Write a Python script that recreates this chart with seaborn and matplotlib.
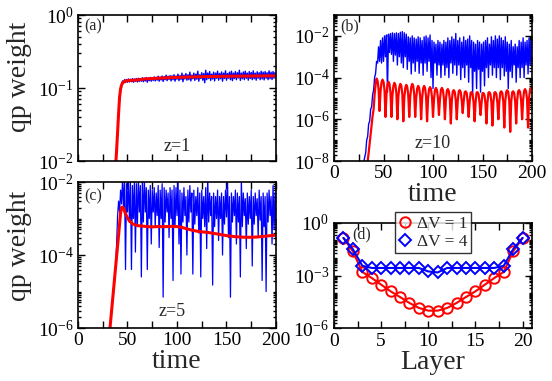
import numpy as np
import pandas as pd
import matplotlib
matplotlib.use("Agg")
import matplotlib.pyplot as plt
import seaborn as sns
from matplotlib.ticker import FixedLocator, LogLocator, MultipleLocator, NullFormatter, LogFormatterSciNotation
from matplotlib.lines import Line2D

# ---------------- data ----------------
# panel (a) z=1
a_red_t = [38, 39, 40, 41, 42, 43, 44, 45, 46, 48, 52, 60, 67, 80, 100, 125, 150, 175, 200]
a_red_y = [0.0085, 0.014, 0.025, 0.045, 0.075, 0.097, 0.11, 0.117, 0.121, 0.125, 0.127,
           0.129, 0.133, 0.136, 0.14, 0.143, 0.145, 0.146, 0.147]
a_blue_t0 = 38
a_blue_y = [0.0085, 0.014, 0.025, 0.045, 0.075, 0.097, 0.11,
            0.125, 0.116, 0.13, 0.119, 0.131, 0.12, 0.133, 0.121, 0.132, 0.122, 0.134, 0.12, 0.133,
            0.123, 0.135, 0.121, 0.136, 0.123, 0.134, 0.124, 0.138, 0.122, 0.136, 0.125, 0.139, 0.12,
            0.137, 0.126, 0.14, 0.124, 0.138, 0.127, 0.142, 0.125, 0.14, 0.128, 0.145, 0.124, 0.141,
            0.129, 0.146, 0.123, 0.143, 0.13, 0.15, 0.126, 0.145, 0.131, 0.148, 0.125, 0.147, 0.13,
            0.152, 0.124, 0.146, 0.132, 0.155, 0.126, 0.148, 0.131, 0.16, 0.122, 0.15, 0.133, 0.158,
            0.128, 0.152, 0.13, 0.165, 0.125, 0.15, 0.134, 0.16, 0.127, 0.155, 0.132, 0.17, 0.124,
            0.152, 0.135, 0.162, 0.128, 0.158, 0.118, 0.175, 0.13, 0.16, 0.135, 0.168, 0.127, 0.155,
            0.133, 0.165, 0.125, 0.16, 0.136, 0.17, 0.128, 0.158, 0.134, 0.166, 0.124, 0.16, 0.135,
            0.172, 0.128, 0.158, 0.136, 0.165, 0.13, 0.17, 0.126, 0.16, 0.135, 0.168, 0.13, 0.162,
            0.137, 0.175, 0.127, 0.16, 0.134, 0.166, 0.13, 0.17, 0.136, 0.16, 0.128, 0.168, 0.135,
            0.163, 0.13, 0.172, 0.134, 0.16, 0.128, 0.167, 0.136, 0.162, 0.13, 0.17, 0.133, 0.165,
            0.129, 0.168, 0.136, 0.162, 0.13, 0.172, 0.134, 0.165, 0.131, 0.168, 0.136, 0.163, 0.14]

# panel (b) z=10
b_red_t0 = 33
b_red_y = [5e-9, 1e-8, 2.5e-8, 7e-8, 2e-7, 6e-7, 1.5e-6, 3e-6, 1.5e-5, 5e-5,
           9e-5, 7e-5, 2.8e-5, 2.5e-6, 2.2e-5, 6e-5,
           8e-5, 6.3e-5, 2.5e-5, 1.3e-6, 1.6e-5, 4.5e-5,
           6.3e-5, 5e-5, 2e-5, 1.3e-6, 1.4e-5, 4e-5,
           5.6e-5, 4.5e-5, 1.8e-5, 1e-6, 1.26e-5, 3.5e-5,
           5e-5, 4e-5, 1.6e-5, 8e-7, 1.1e-5, 3.2e-5,
           4.5e-5, 3.5e-5, 1.4e-5, 1.3e-6, 1.2e-5, 3.5e-5,
           5e-5, 4e-5, 1.6e-5, 1.3e-6, 1e-5, 3e-5,
           4e-5, 3.2e-5, 1.3e-5, 1e-6, 1e-5, 3e-5,
           4e-5, 3.2e-5, 1.2e-5, 8e-7, 1e-5, 2.8e-5,
           3.5e-5, 2.8e-5, 1.1e-5, 1.3e-6, 9e-6, 2.6e-5,
           3.2e-5, 2.5e-5, 1e-5, 1.6e-6, 9e-6, 2.6e-5,
           3.2e-5, 2.5e-5, 1e-5, 1e-6, 8.5e-6, 2.4e-5,
           2.8e-5, 2.2e-5, 9e-6, 6.3e-7, 8e-6, 2.2e-5,
           2.5e-5, 2e-5, 8e-6, 1e-6, 8e-6, 2.2e-5,
           2.5e-5, 2e-5, 8e-6, 2e-6, 7.5e-6, 2e-5,
           2.2e-5, 1.8e-5, 7e-6, 1.3e-6, 7e-6, 1.9e-5,
           2e-5, 1.6e-5, 6.3e-6, 8e-7, 6.5e-6, 1.9e-5,
           2e-5, 1.6e-5, 6.3e-6, 1.6e-6, 6e-6, 1.8e-5,
           1.8e-5, 1.4e-5, 5.6e-6, 6.3e-7, 6.5e-6, 1.9e-5,
           2e-5, 1.6e-5, 6.3e-6, 5e-7, 6.5e-6, 1.9e-5,
           2e-5, 1.6e-5, 6.3e-6, 1e-6, 7e-6, 2e-5,
           2.2e-5, 1.8e-5, 7e-6, 4e-7, 7.5e-6, 2.1e-5,
           2.5e-5, 2e-5, 8e-6, 2.5e-7, 7e-6, 2e-5,
           2.2e-5, 1.8e-5, 7e-6, 6.3e-7, 8e-6, 2.2e-5,
           2.5e-5, 2e-5, 8e-6, 1e-6, 8e-6, 2.3e-5,
           2.8e-5, 2.2e-5, 9e-6, 4e-7, 1e-5, 2.6e-5,
           3.2e-5, 2.8e-5]
b_blue_t0 = 28
b_blue_y = [3e-9, 6e-9, 9e-9, 1.5e-8, 2.5e-8, 1e-7, 1.5e-7, 6e-7, 8e-7, 3e-6, 4e-6, 1.5e-5,
            2.5e-5, 1e-4, 1.6e-4, 6e-4, 5e-4, 3e-3, 6e-4, 6e-3, 5e-4, 8e-3, 6e-4, 1e-2, 1e-3,
            1.1e-2, 2e-5, 1.2e-2, 1.6e-3, 1.3e-2, 1.3e-3, 1.4e-2, 6e-4, 1.3e-2, 1.2e-3, 1.4e-2,
            4e-4, 1.3e-2, 1e-3, 1.5e-2, 5e-4, 1.6e-2, 3e-4, 1.4e-2, 1e-3, 1.2e-2, 2.5e-4, 9e-3,
            6e-4, 8e-3, 1.5e-4, 1e-2, 5e-4, 8e-3, 2e-4, 7e-3, 6e-4, 9e-3, 1.6e-4, 8e-3, 5e-4,
            6e-3, 1.3e-4, 9e-3, 5e-4, 1e-2, 2e-4, 8e-3, 6e-4, 1.1e-2, 1e-4, 6e-3, 3e-5, 5e-3,
            5e-4, 4e-3, 1.3e-4, 6e-3, 4e-4, 5e-3, 1e-4, 4e-3, 4e-4, 6e-3, 1.3e-4, 5e-3, 3e-4,
            8e-3, 1e-4, 6e-3, 5e-4, 9e-3, 1.6e-4, 7e-3, 4e-4, 1.3e-2, 1.3e-4, 6e-3, 4e-4, 8e-3,
            8e-5, 5e-3, 3e-4, 9e-3, 1e-4, 6e-3, 4e-4, 7e-3, 6e-5, 1e-2, 3e-4, 6e-3, 1.6e-5,
            5e-3, 2e-4, 4e-3, 3e-5, 6e-3, 2.5e-4, 5e-3, 2e-5, 4e-3, 2e-4, 5e-3, 4e-5, 6e-3,
            3e-4, 8e-3, 1e-4, 4e-3, 4e-4, 9e-3, 1.3e-4, 6e-3, 3e-4, 1e-2, 1e-4, 7e-3, 3e-4,
            1e-2, 8e-5, 8e-3, 3e-4, 6e-3, 1.2e-4, 9e-3, 2e-4, 5e-3, 3e-5, 4e-3, 2e-4, 6e-3,
            1e-4, 3e-3, 4e-4, 4e-3, 6e-5, 3e-3, 3e-4, 6e-3, 1e-4, 5e-3, 3e-4, 8e-3, 1e-4,
            5e-3, 4e-4, 6e-3, 1.5e-4, 8e-3, 4e-4, 6e-3, 8e-4]

# panel (c) z=5
c_red_t = [30, 31, 32, 34, 36, 38, 40, 42, 43, 44, 45, 46, 47, 48, 50, 52, 55, 58, 60, 65, 70,
           75, 80, 85, 90, 95, 100, 105, 110, 115, 120, 125, 130, 140, 150, 160, 170, 180, 190, 200]
c_red_y = [2.6e-7, 5e-7, 8e-7, 3.1e-6, 1.2e-5, 4.7e-5, 1.8e-4, 7e-4, 1.4e-3, 2e-3, 2.05e-3,
           1.9e-3, 1.6e-3, 1.35e-3, 1.05e-3, 8.5e-4, 7.2e-4, 6.6e-4, 6.4e-4, 6.2e-4, 6e-4, 5.9e-4,
           6e-4, 6e-4, 6e-4, 6.1e-4, 6e-4, 5.7e-4, 5.2e-4, 4.8e-4, 4.5e-4, 4.3e-4, 4.2e-4, 3.8e-4,
           3.4e-4, 3.15e-4, 3.05e-4, 3.1e-4, 3.3e-4, 3.5e-4]
c_blue_t0 = 38
c_blue_y = [4.7e-5, 2e-4, 1.2e-3, 3e-3, 1.5e-3, 6e-3, 2.5e-3, 1.2e-2, 2e-3, 1.1e-2, 4e-5, 9e-3,
            1.5e-3, 1.2e-2, 8e-4, 1e-2, 4e-5, 8e-3, 1e-3, 1.1e-2, 1.2e-4, 9e-3, 6e-4, 1.2e-2,
            1.5e-3, 8e-3, 2.5e-5, 1e-2, 8e-4, 1.3e-2, 1.5e-3, 7e-3, 4e-5, 6e-3, 1e-3, 8e-3,
            2e-4, 6e-3, 1.5e-3, 7e-3, 6e-4, 5e-3, 1.2e-3, 8e-3, 1.6e-4, 6e-3, 1e-3, 9e-3, 7e-6,
            7e-3, 8e-4, 6e-3, 1.5e-3, 5e-3, 3e-4, 7e-3, 1e-3, 6e-3, 2e-5, 8e-3, 6e-4, 7e-3,
            1.2e-3, 1.2e-2, 2e-4, 6e-3, 3e-5, 5e-3, 8e-4, 7e-3, 1.2e-3, 4e-3, 1e-4, 6e-3, 8e-4,
            8e-3, 1.5e-3, 5e-3, 3e-5, 6e-3, 7e-4, 4e-3, 1.2e-3, 7e-3, 4e-4, 5e-3, 2.5e-5, 6e-3,
            1e-3, 4e-3, 6e-4, 7e-3, 1.5e-4, 1.5e-2, 8e-4, 5e-3, 1.2e-3, 4e-3, 1.5e-5, 5e-3,
            6e-4, 4e-3, 1e-3, 6e-3, 2.5e-4, 4e-3, 1e-3, 5e-3, 1e-4, 4e-3, 7e-4, 6e-3, 1.1e-3,
            1.5e-2, 3e-4, 4e-3, 7e-6, 5e-3, 8e-4, 4e-3, 1.2e-3, 6e-3, 2e-4, 5e-3, 8e-4, 4e-3,
            2.5e-5, 1.3e-2, 6e-4, 5e-3, 1.2e-3, 3.5e-3, 1.5e-4, 5e-3, 7e-4, 4e-3, 1e-3, 6e-3,
            5e-5, 4e-3, 7e-4, 5e-3, 1.2e-3, 3.5e-3, 3e-4, 6e-3, 9e-4, 4e-3, 2e-5, 5e-3, 6e-4,
            4e-3, 1e-5, 5e-3, 8e-4, 6e-3, 1.2e-3, 4e-3, 2e-4, 8e-3, 5e-4, 5e-3, 1e-3]

# panel (d)
layers = list(range(1, 21))
d_dv1 = [0.14, 0.024, 1.6e-3, 7.2e-4, 3e-4, 1.25e-4, 5.9e-5, 2.7e-5, 1.4e-5, 9.8e-6,
         9.8e-6, 1.4e-5, 2.7e-5, 5.9e-5, 1.25e-4, 3e-4, 7.2e-4, 1.6e-3, 0.024, 0.14]
d_dv4 = [0.14, 0.032, 3.6e-3, 2.7e-3, 2.7e-3, 2.7e-3, 2.7e-3, 2.7e-3, 2.7e-3, 1.7e-3,
         1.5e-3, 2.7e-3, 2.7e-3, 2.7e-3, 2.7e-3, 2.7e-3, 2.7e-3, 3.6e-3, 0.032, 0.14]
legend_labels = ["\u0394V = 1", "\u0394V = 4"]

# ---------------- style ----------------
sns.set_theme(style="ticks")
plt.rcParams.update({
    "font.family": ["Liberation Serif", "DejaVu Serif"],
    "mathtext.fontset": "custom",
    "mathtext.rm": "Liberation Serif",
    "mathtext.it": "Liberation Serif:italic",
    "mathtext.bf": "Liberation Serif:bold",
    "axes.linewidth": 1.2,
    "axes.edgecolor": "black",
    "xtick.color": "black",
    "ytick.color": "black",
})
RED = "#ff0000"
BLUE = "#0000ff"
TICK_FS = 14
LAB_FS = 20

fig = plt.figure(figsize=(5.52, 3.81), dpi=100)
ax_a = fig.add_axes([0.1413, 0.5774, 0.3587, 0.3832])
ax_b = fig.add_axes([0.6051, 0.5774, 0.3587, 0.3832])
ax_c = fig.add_axes([0.1413, 0.1391, 0.3587, 0.3832])
ax_d = fig.add_axes([0.6051, 0.1391, 0.3587, 0.2756])


def series(t0, ys):
    return pd.DataFrame({"t": np.arange(t0, t0 + len(ys)), "y": ys})


def style_time_axis(ax, ylo, yhi, majors, show_x=True):
    ax.set_yscale("log")
    ax.set_xlim(0, 200)
    ax.set_ylim(ylo, yhi)
    ax.xaxis.set_major_locator(MultipleLocator(50))
    ax.xaxis.set_minor_locator(MultipleLocator(25))
    ax.yaxis.set_major_locator(FixedLocator(majors))
    ax.yaxis.set_major_formatter(LogFormatterSciNotation())
    ax.yaxis.set_minor_locator(LogLocator(base=10, subs=np.arange(1, 10), numticks=100))
    ax.yaxis.set_minor_formatter(NullFormatter())
    ax.tick_params(which="both", direction="in", top=True, right=True, labelsize=TICK_FS,
                   width=1.0, pad=3)
    ax.tick_params(which="major", length=5)
    ax.tick_params(which="minor", length=2.5)
    ax.tick_params(axis="x", which="minor", length=5)
    if not show_x:
        ax.tick_params(axis="x", labelbottom=False)
    ax.set_xlabel("")
    ax.set_ylabel("")


# (a)
da = pd.DataFrame({"t": a_red_t, "y": a_red_y})
sns.lineplot(data=series(a_blue_t0, a_blue_y), x="t", y="y", ax=ax_a, color=BLUE, lw=1.0,
             estimator=None)
sns.lineplot(data=da, x="t", y="y", ax=ax_a, color=RED, lw=2.2, estimator=None)
style_time_axis(ax_a, 1e-2, 1e0, [1e-2, 1e-1, 1e0], show_x=False)
ax_a.set_ylabel("qp weight", fontsize=LAB_FS)
ax_a.text(0.5, 0.1, "z=1", transform=ax_a.transAxes, ha="center", va="center", fontsize=13)
ax_a.text(0.03, 0.975, "(a)", transform=ax_a.transAxes, ha="left", va="top", fontsize=11.5)

# (b)
sns.lineplot(data=series(b_blue_t0, b_blue_y), x="t", y="y", ax=ax_b, color=BLUE, lw=1.0,
             estimator=None)
sns.lineplot(data=series(b_red_t0, b_red_y), x="t", y="y", ax=ax_b, color=RED, lw=1.6,
             estimator=None)
style_time_axis(ax_b, 1e-8, 1e-1, [1e-8, 1e-6, 1e-4, 1e-2])
ax_b.set_xlabel("time", fontsize=LAB_FS, labelpad=0)
ax_b.text(0.5, 0.12, "z=10", transform=ax_b.transAxes, ha="center", va="center", fontsize=13)
ax_b.text(0.03, 0.975, "(b)", transform=ax_b.transAxes, ha="left", va="top", fontsize=11.5)

# (c)
sns.lineplot(data=series(c_blue_t0, c_blue_y), x="t", y="y", ax=ax_c, color=BLUE, lw=0.9,
             estimator=None)
sns.lineplot(data=pd.DataFrame({"t": c_red_t, "y": c_red_y}), x="t", y="y", ax=ax_c,
             color=RED, lw=2.2, estimator=None)
style_time_axis(ax_c, 1e-6, 1e-2, [1e-6, 1e-4, 1e-2])
ax_c.set_ylabel("qp weight", fontsize=LAB_FS)
ax_c.set_xlabel("time", fontsize=LAB_FS, labelpad=0)
ax_c.text(0.475, 0.11, "z=5", transform=ax_c.transAxes, ha="center", va="center", fontsize=13)
ax_c.text(0.03, 0.955, "(c)", transform=ax_c.transAxes, ha="left", va="top", fontsize=11.5)

# (d)
dd = pd.DataFrame({"layer": layers * 2, "w": d_dv1 + d_dv4,
                   "s": [legend_labels[0]] * 20 + [legend_labels[1]] * 20})
sns.lineplot(data=dd[dd.s == legend_labels[0]], x="layer", y="w", ax=ax_d, color=RED, lw=1.5,
             marker="o", markersize=7.5, markerfacecolor="none", markeredgecolor=RED,
             markeredgewidth=1.4, estimator=None)
sns.lineplot(data=dd[dd.s == legend_labels[1]], x="layer", y="w", ax=ax_d, color=BLUE, lw=1.5,
             marker="D", markersize=6.5, markerfacecolor="none", markeredgecolor=BLUE,
             markeredgewidth=1.4, estimator=None)
ax_d.set_yscale("log")
ax_d.set_xlim(0, 21)
ax_d.set_ylim(1e-6, 1e0)
ax_d.xaxis.set_major_locator(MultipleLocator(5))
ax_d.xaxis.set_minor_locator(MultipleLocator(2.5))
ax_d.yaxis.set_major_locator(FixedLocator([1e-6, 1e-3, 1e0]))
ax_d.yaxis.set_major_formatter(LogFormatterSciNotation())
ax_d.yaxis.set_minor_locator(LogLocator(base=10, subs=np.arange(1, 10), numticks=100))
ax_d.yaxis.set_minor_formatter(NullFormatter())
ax_d.tick_params(which="both", direction="in", top=True, right=True, labelsize=TICK_FS, width=1.0)
ax_d.tick_params(which="major", length=5)
ax_d.tick_params(which="minor", length=2.5)
ax_d.tick_params(axis="x", which="minor", length=5)
ax_d.set_ylabel("")
ax_d.set_xlabel("Layer", fontsize=LAB_FS, labelpad=0)
ax_d.text(0.09, 0.97, "(d)", transform=ax_d.transAxes, ha="left", va="top", fontsize=11.5)
handles = [Line2D([], [], ls="none", marker="o", markersize=7.5, markerfacecolor="none",
                  markeredgecolor=RED, markeredgewidth=1.4),
           Line2D([], [], ls="none", marker="D", markersize=6.5, markerfacecolor="none",
                  markeredgecolor=BLUE, markeredgewidth=1.4)]
leg = ax_d.legend(handles, legend_labels, loc="upper center", bbox_to_anchor=(0.5, 1.1),
                  fontsize=12.5, frameon=True, fancybox=False, handlelength=0.8,
                  handletextpad=0.3, borderpad=0.2, labelspacing=0.1, borderaxespad=0)
leg.get_frame().set_edgecolor("black")
leg.get_frame().set_linewidth(1.0)
leg.set_zorder(10)

ax_a.yaxis.set_label_coords(-0.23, 0.575)
ax_c.yaxis.set_label_coords(-0.23, 0.56)

fig.savefig("out.png", dpi=100)
